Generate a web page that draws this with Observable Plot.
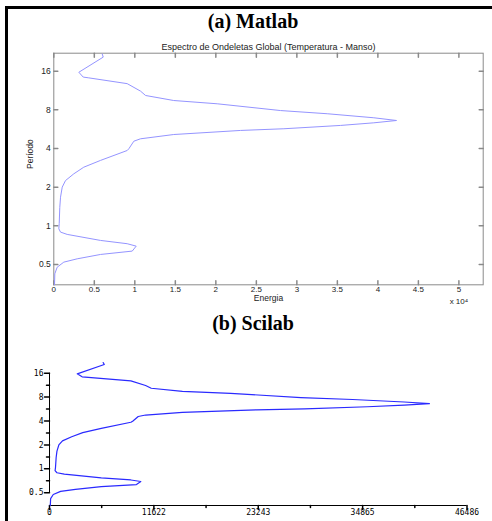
<!DOCTYPE html>
<html>
<head>
<meta charset="utf-8">
<script src="https://cdn.jsdelivr.net/npm/d3@7"></script>
<script src="https://cdn.jsdelivr.net/npm/@observablehq/plot@0.6"></script>
<style>
  html, body { margin: 0; padding: 0; background: white; }
  #page { position: relative; width: 492px; height: 521px; overflow: hidden; background: white; }
  .frame { position: absolute; left: 5px; top: 6px; right: -10px; bottom: -10px; border-top: 3px solid #000; border-left: 3px solid #000; z-index: 5; pointer-events: none; }
  .title { position: absolute; transform: translateX(-50%); font-family: "Liberation Serif", "Times New Roman", serif; font-weight: bold; font-size: 20px; line-height: 22px; white-space: nowrap; color: #000; z-index: 4; }
  .panel { position: absolute; left: 0; }
</style>
</head>
<body>
<div id="page">
  <div class="panel" id="matlab" style="top:30px;"></div>
  <div class="panel" id="scilab" style="top:340px;"></div>
  <div class="title" style="left:253px; top:10px;">(a) Matlab</div>
  <div class="title" style="left:253px; top:312px;">(b) Scilab</div>
  <div class="frame"></div>
</div>
<script>
// Global wavelet spectrum: period (top to bottom) and energy
const period = [21.8, 20.6, 15.7, 14.4, 14.2, 12.8, 11.2, 10.35, 9.46, 8.92, 7.9, 7.46, 6.94, 6.61,
  6.34, 6.05, 5.70, 5.53, 5.14, 4.76, 4.56, 3.98, 3.86, 3.23, 2.86, 2.54, 2.25, 2.0, 1.67, 1.39,
  1.04, 0.948, 0.893, 0.857, 0.769, 0.725, 0.694, 0.635, 0.598, 0.553, 0.521, 0.476, 0.423, 0.347];
const energy = [5975, 6100, 3090, 3630, 4320, 9060, 10700, 11330, 14800, 20170, 27990, 33750, 39500, 42300,
  39500, 35400, 28400, 23050, 14800, 10700, 9880, 9260, 9060, 5765, 3700, 2470, 1444, 1040, 830, 740,
  667, 620, 830, 1650, 5765, 9060, 10170, 9680, 5765, 2890, 1235, 420, 125, 90];

const matlabXTicks = [0, 5000, 10000, 15000, 20000, 25000, 30000, 35000, 40000, 45000, 50000];
const matlabYTicks = [0.5, 1, 2, 4, 8, 16];
const scilabXTicks = [0, 11622, 23243, 34865, 46486];
const scilabXMinor = [5811, 17432.5, 29054, 40675.5];
const scilabYTicks = [0.5, 1, 2, 4, 8, 16];
const scilabYMinor = [0.7071, 1.4142, 2.8284, 5.6569, 11.3137];

const data = period.map((p, i) => ({P: p, E: energy[i]}));

const tickShape = {draw(ctx, l) { ctx.moveTo(0, 0); ctx.lineTo(0, -l); }};

const matlabGray = "#8a8a8a";
const matlab = Plot.plot({
  width: 492, height: 280,
  marginLeft: 53.3, marginRight: 9.3, marginTop: 22.7, marginBottom: 25.7,
  x: {domain: [0, 53000]},
  y: {type: "log", base: 2, domain: [0.347, 22.1]},
  style: {fontFamily: "Liberation Sans, Arial, sans-serif", fontSize: "9px", color: "#222", background: "white", overflow: "visible"},
  marks: [
    Plot.frame({stroke: matlabGray}),
    Plot.vector(matlabXTicks, {x: d => d, frameAnchor: "bottom", length: 4, rotate: 0, anchor: "start", shape: tickShape, stroke: matlabGray}),
    Plot.vector(matlabXTicks, {x: d => d, frameAnchor: "top", length: 4, rotate: 180, anchor: "start", shape: tickShape, stroke: matlabGray}),
    Plot.vector(matlabYTicks, {y: d => d, frameAnchor: "left", length: 4, rotate: 90, anchor: "start", shape: tickShape, stroke: matlabGray}),
    Plot.vector(matlabYTicks, {y: d => d, frameAnchor: "right", length: 4, rotate: 270, anchor: "start", shape: tickShape, stroke: matlabGray}),
    Plot.axisX({ticks: matlabXTicks, tickSize: 0, tickPadding: 2, fontSize: 8, tickFormat: d => String(d / 1e4), label: null}),
    Plot.axisY({ticks: matlabYTicks, tickSize: 0, tickPadding: 3, fontSize: 8.5, tickFormat: d => String(d), label: null}),
    Plot.text(["Energia"], {text: d => d, frameAnchor: "bottom", dy: 16.5, fontSize: 8.5}),
    Plot.text(["x 10\u2074"], {text: d => d, frameAnchor: "bottom-right", textAnchor: "end", dx: -15, dy: 19, fontSize: 8}),
    Plot.text(["Período"], {text: d => d, frameAnchor: "left", rotate: -90, dx: -24, fontSize: 8.5}),
    Plot.text(["Espectro de Ondeletas Global (Temperatura - Manso)"], {text: d => d, frameAnchor: "top", dy: -9.5, fontSize: 9}),
    Plot.line(data, {x: "E", y: "P", stroke: "#9494ff", strokeWidth: 1})
  ]
});
document.getElementById("matlab").appendChild(matlab);

const scilab = Plot.plot({
  width: 492, height: 181,
  marginLeft: 49, marginRight: 25.5, marginTop: 21.7, marginBottom: 16,
  x: {domain: [0, 46486]},
  y: {type: "log", base: 2, domain: [0.346, 22]},
  style: {fontFamily: "DejaVu Sans Mono, monospace", fontSize: "8px", color: "#000", background: "white", overflow: "visible"},
  marks: [
    Plot.ruleY([0.346], {x1: 0, x2: 46486, stroke: "#000"}),
    Plot.ruleX([0], {y1: 0.5, y2: 16, stroke: "#000"}),
    Plot.vector(scilabXTicks, {x: d => d, y: 0.346, length: 4, rotate: 180, anchor: "start", shape: tickShape, stroke: "#000"}),
    Plot.vector(scilabXMinor, {x: d => d, y: 0.346, length: 2, rotate: 180, anchor: "start", shape: tickShape, stroke: "#000"}),
    Plot.vector(scilabYTicks, {x: 0, y: d => d, length: 5, rotate: 270, anchor: "start", shape: tickShape, stroke: "#000"}),
    Plot.vector(scilabYMinor, {x: 0, y: d => d, length: 3, rotate: 270, anchor: "start", shape: tickShape, stroke: "#000"}),
    Plot.axisX({ticks: scilabXTicks, tickSize: 0, tickPadding: 4, tickFormat: d => String(d), label: null}),
    Plot.axisY({ticks: scilabYTicks, tickSize: 0, tickPadding: 6, tickFormat: d => String(d), label: null}),
    Plot.line(data, {x: "E", y: "P", stroke: "#2a2aff", strokeWidth: 1.2})
  ]
});
document.getElementById("scilab").appendChild(scilab);
</script>
</body>
</html>
